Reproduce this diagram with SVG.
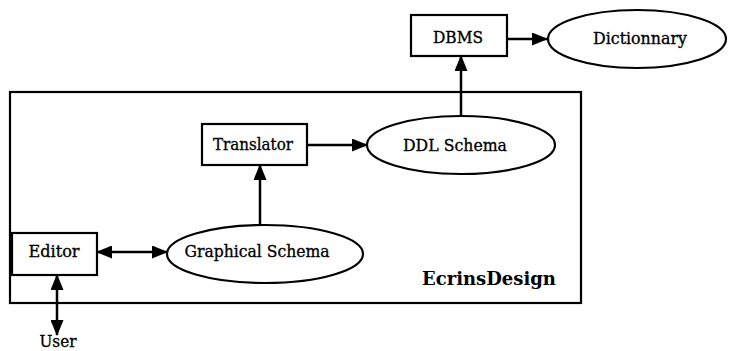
<svg xmlns="http://www.w3.org/2000/svg" width="730" height="351" viewBox="0 0 730 351">
  <style>
    .box { fill: #fff; stroke: #000; stroke-width: 2.2; }
    .frame { fill: none; stroke: #000; stroke-width: 2.2; }
    .lbl { font-family: "DejaVu Serif", "Liberation Serif", serif; font-size: 17px; fill: #000; stroke: #000; stroke-width: 0.35; text-anchor: middle; }
    .title { font-family: "DejaVu Serif", "Liberation Serif", serif; font-size: 18px; font-weight: bold; fill: #000; text-anchor: middle; }
    .conn { fill: none; stroke: #000; stroke-width: 2.5; }
  </style>
  <defs>
    <marker id="head" markerUnits="userSpaceOnUse" markerWidth="16" markerHeight="13" refX="15" refY="6.5" orient="auto-start-reverse">
      <path d="M0,0 L16,6.5 L0,13 Z" fill="#000"/>
    </marker>
  </defs>

  <rect width="730" height="351" fill="#fff"/>

  <!-- system boundary -->
  <g id="ecrinsdesign">
    <rect class="frame" x="10" y="92" width="571" height="211"/>
    <text class="title" x="489" y="285">EcrinsDesign</text>
  </g>

  <g id="connectors">
    <line class="conn" x1="508" y1="39" x2="547" y2="39" marker-end="url(#head)"/>
    <line class="conn" x1="461" y1="116" x2="461" y2="56" marker-end="url(#head)"/>
    <line class="conn" x1="307" y1="145" x2="367" y2="145" marker-end="url(#head)"/>
    <line class="conn" x1="260" y1="225" x2="260" y2="165" marker-end="url(#head)"/>
    <line class="conn" x1="97" y1="252" x2="167" y2="252" marker-start="url(#head)" marker-end="url(#head)"/>
    <line class="conn" x1="57" y1="275" x2="57" y2="335" marker-start="url(#head)" marker-end="url(#head)"/>
  </g>

  <g id="dbms">
    <rect class="box" x="411" y="15" width="96" height="41"/>
    <text class="lbl" x="458" y="43" textLength="50" lengthAdjust="spacingAndGlyphs">DBMS</text>
  </g>

  <g id="dictionnary">
    <ellipse class="box" cx="637" cy="39" rx="89" ry="29"/>
    <text class="lbl" x="640" y="44" textLength="94" lengthAdjust="spacingAndGlyphs">Dictionnary</text>
  </g>

  <g id="translator">
    <rect class="box" x="202" y="124" width="105" height="41"/>
    <text class="lbl" x="253" y="150" textLength="80" lengthAdjust="spacingAndGlyphs">Translator</text>
  </g>

  <g id="ddl-schema">
    <ellipse class="box" cx="461" cy="145" rx="94" ry="29"/>
    <text class="lbl" x="455" y="151" textLength="104" lengthAdjust="spacingAndGlyphs">DDL Schema</text>
  </g>

  <g id="graphical-schema">
    <ellipse class="box" cx="265" cy="254" rx="98" ry="29"/>
    <text class="lbl" x="257" y="257" textLength="145" lengthAdjust="spacingAndGlyphs">Graphical Schema</text>
  </g>

  <g id="editor">
    <rect class="box" x="12" y="233" width="85" height="42"/>
    <text class="lbl" x="54" y="257" textLength="51" lengthAdjust="spacingAndGlyphs">Editor</text>
  </g>

  <g id="user">
    <text class="lbl" x="58" y="347" textLength="37" lengthAdjust="spacingAndGlyphs">User</text>
  </g>
</svg>
